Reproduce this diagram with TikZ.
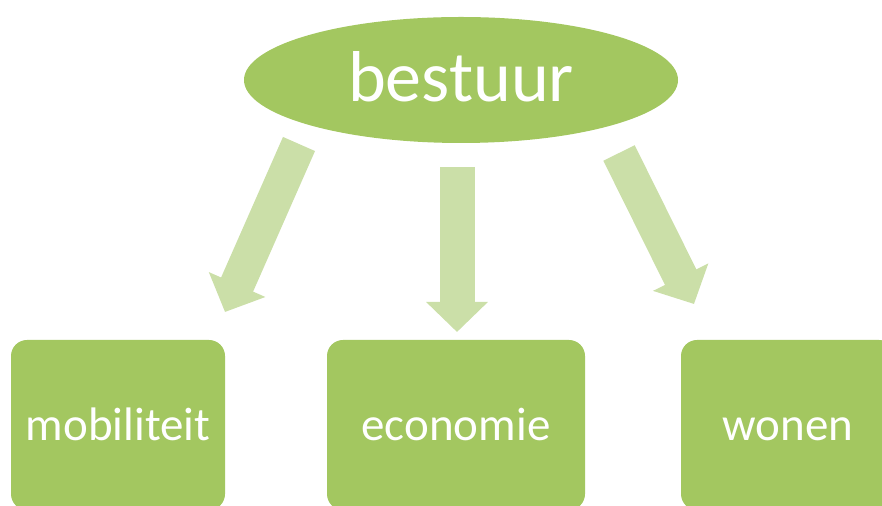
\documentclass[tikz,border=0pt]{standalone}
\usepackage{fontspec}
\setmainfont{Carlito}
\usetikzlibrary{arrows.meta,shapes.geometric}
\definecolor{leaf}{RGB}{163,199,96}
\definecolor{paleleaf}{RGB}{203,223,168}

\begin{document}
\begin{tikzpicture}[x=0.5pt,y=-0.5pt,
    topic/.style={fill=leaf,rounded corners=8pt,minimum width=107pt,minimum height=85pt,inner sep=0pt,text=white,text height=16pt,text depth=0pt,font=\fontsize{23.5}{28}\selectfont},
    flow/.style={paleleaf,line width=17.5pt,-{Triangle[length=15pt,width=30pt]}}]
          \useasboundingbox (0,0) rectangle (882,506);
          \clip (0,0) rectangle (882,506);
          % top
          \node [ellipse, fill=leaf, minimum width=217pt, minimum height=63pt, inner sep=0pt, text=white, text height=25pt, text depth=3pt, font=\fontsize{36}{40}\selectfont] (gov) at (461,80) {bestuur};
          % the three fields
          \node [topic] (mob) at (118,425) {mobiliteit};
          \node [topic, minimum width=129pt] (eco) at (456,425) {economie};
          \node [topic] (hom) at (788,425) {wonen};
          % arrows
          \coordinate (l1) at (299,144);
          \coordinate (l2) at (225,312);
          \coordinate (m1) at (457,167);
          \coordinate (m2) at (457,332);
          \coordinate (r1) at (619,153);
          \coordinate (r2) at (694,304);
          \draw [flow] (l1) -- (l2);
          \draw [flow] (m1) -- (m2);
          \draw [flow] (r1) -- (r2);
        \end{tikzpicture}
\end{document}
